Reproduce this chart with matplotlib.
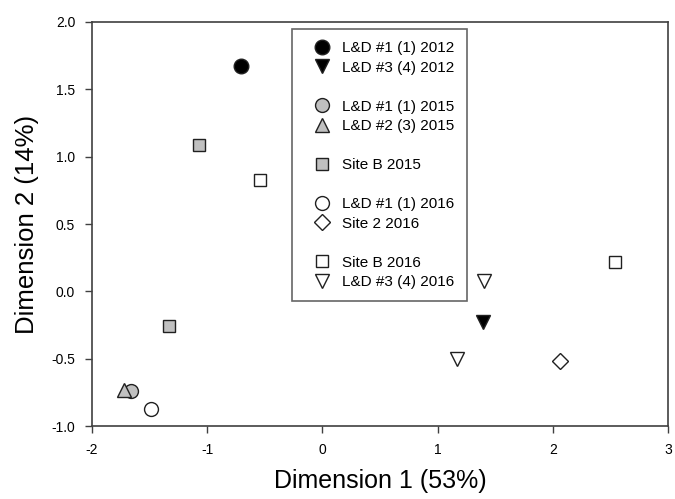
"""NMDS ordination plot: sites by year."""
import matplotlib
matplotlib.use("Agg")
import matplotlib.pyplot as plt
from matplotlib.lines import Line2D

plt.rcParams["font.family"] = ["Liberation Sans", "DejaVu Sans"]
plt.rcParams["axes.unicode_minus"] = False

# series: label, x values, y values
ld1_2012_x = [-0.71]
ld1_2012_y = [1.67]
ld3_2012_x = [1.39]
ld3_2012_y = [-0.23]
ld1_2015_x = [-1.66]
ld1_2015_y = [-0.74]
ld2_2015_x = [-1.72]
ld2_2015_y = [-0.73]
siteb_2015_x = [-1.07, -1.33]
siteb_2015_y = [1.09, -0.26]
ld1_2016_x = [-1.49]
ld1_2016_y = [-0.87]
site2_2016_x = [2.06]
site2_2016_y = [-0.52]
siteb_2016_x = [-0.54, 2.54]
siteb_2016_y = [0.83, 0.22]
ld3_2016_x = [1.40, 1.17]
ld3_2016_y = [0.08, -0.50]

GREY = "#c0c0c0"
EDGE = "#202020"

SERIES = [
    ("L&D #1 (1) 2012", ld1_2012_x, ld1_2012_y, "o", "black", 10.5),
    ("L&D #3 (4) 2012", ld3_2012_x, ld3_2012_y, "v", "black", 10),
    (None,),
    ("L&D #1 (1) 2015", ld1_2015_x, ld1_2015_y, "o", GREY, 10),
    ("L&D #2 (3) 2015", ld2_2015_x, ld2_2015_y, "^", GREY, 10),
    (None,),
    ("Site B 2015", siteb_2015_x, siteb_2015_y, "s", GREY, 9),
    (None,),
    ("L&D #1 (1) 2016", ld1_2016_x, ld1_2016_y, "o", "white", 10),
    ("Site 2 2016", site2_2016_x, site2_2016_y, "D", "white", 8),
    (None,),
    ("Site B 2016", siteb_2016_x, siteb_2016_y, "s", "white", 9),
    ("L&D #3 (4) 2016", ld3_2016_x, ld3_2016_y, "v", "white", 10),
]

fig = plt.figure(figsize=(6.75, 4.99), dpi=100)
ax = fig.add_axes([0.136, 0.146, 0.854, 0.81])

handles = []
labels = []
for s in SERIES:
    if s[0] is None:
        handles.append(Line2D([], [], linestyle="none", marker=None))
        labels.append("")
        continue
    label, xs, ys, marker, color, size = s
    (h,) = ax.plot(xs, ys, linestyle="none", marker=marker, markersize=size,
                   markerfacecolor=color, markeredgecolor=EDGE, markeredgewidth=1.0,
                   label=label)
    handles.append(h)
    labels.append(label)

ax.set_xlim(-2, 3)
ax.set_ylim(-1.0, 2.0)
ax.set_xticks([-2, -1, 0, 1, 2, 3])
ax.set_yticks([-1.0, -0.5, 0.0, 0.5, 1.0, 1.5, 2.0])
ax.set_yticklabels(["-1.0", "-0.5", "0.0", "0.5", "1.0", "1.5", "2.0"])
ax.tick_params(direction="out", length=5, width=1, color="#404040", labelsize=10, pad=7)
for sp in ax.spines.values():
    sp.set_color("#404040")
    sp.set_linewidth(1.2)

ax.set_xlabel("Dimension 1 (53%)", fontsize=18, labelpad=9)
ax.set_ylabel("Dimension 2 (14%)", fontsize=18.5, labelpad=9)

leg = ax.legend(handles, labels, loc="upper left", bbox_to_anchor=(0.348, 0.983),
                fontsize=11, frameon=True, fancybox=False, labelspacing=0.36,
                handletextpad=0.14, borderpad=0.8, borderaxespad=0, handlelength=2.33,
                markerscale=1.0)
leg.get_frame().set_edgecolor("#404040")
leg.get_frame().set_linewidth(1.2)

fig.savefig("out.png", dpi=100)
